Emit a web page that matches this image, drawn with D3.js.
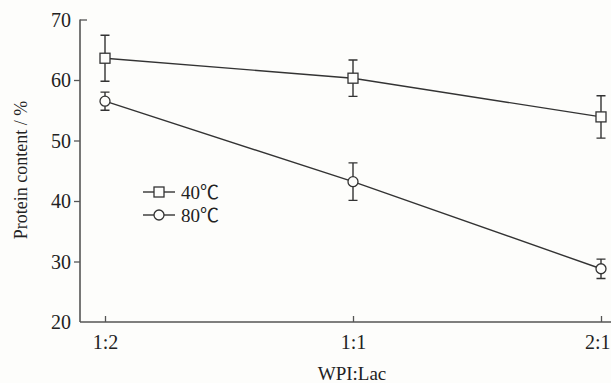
<!DOCTYPE html>
<html>
<head>
<meta charset="utf-8">
<script src="https://cdn.jsdelivr.net/npm/d3@7"></script>
<style>
  body { margin: 0; background: #fdfdfb; }
  text { font-family: "Liberation Serif", "Times New Roman", "Noto Sans CJK SC", serif; fill: #222; }
</style>
</head>
<body>
<svg id="chart"></svg>
<script>
let width = 611;
let height = 383;

// data
let ratios = ["1:2", "1:1", "2:1"];
let yTicks = [20, 30, 40, 50, 60, 70];
let protein40 = [63.6, 60.3, 53.9];
let err40 = [3.8, 3.0, 3.5];
let protein80 = [56.5, 43.2, 28.8];
let err80 = [1.5, 3.1, 1.6];
let seriesNames = ["40\u2103", "80\u2103"];

let svg = d3.select("#chart")
    .attr("width", width)
    .attr("height", height);

let axisLeft = 80, axisBottom = 322;
let x = d3.scalePoint().domain(ratios).range([105, 601]);
let y = d3.scaleLinear().domain([20, 70]).range([axisBottom, 19.5]);

let ink = "#333";

// y axis
let yAxis = svg.append("g").attr("transform", `translate(${axisLeft},0)`)
    .call(d3.axisLeft(y).tickValues(yTicks).tickSize(6).tickPadding(3).tickFormat(d3.format("d")));
yAxis.select(".domain").attr("stroke", "#555").attr("stroke-width", 1.6).attr("d", `M0,${y(70)}V${axisBottom}`);
yAxis.selectAll(".tick line").attr("stroke", "#555").attr("stroke-width", 1.3);
yAxis.selectAll(".tick").filter(d => d === 70).select("line").attr("x2", 7);
yAxis.selectAll(".tick").filter(d => d === 20).select("line").remove();
yAxis.selectAll(".tick text").style("font-size", "20px").attr("dy", "0.34em");

// x axis
let xAxis = svg.append("g").attr("transform", `translate(0,${axisBottom})`)
    .call(d3.axisBottom(x).tickSize(-6).tickPadding(13));
xAxis.select(".domain").attr("stroke", "#555").attr("stroke-width", 1.6).attr("d", `M${axisLeft},0H${width}`);
xAxis.selectAll(".tick line").attr("stroke", "#555").attr("stroke-width", 1.3);
xAxis.selectAll(".tick text").style("font-size", "20px");
xAxis.selectAll(".tick").filter(d => d === "2:1").select("text").attr("text-anchor", "end").attr("x", 9);

// axis titles
svg.append("text")
    .attr("x", 352).attr("y", 380)
    .attr("text-anchor", "middle")
    .style("font-size", "19px")
    .text("WPI:Lac");
svg.append("text")
    .attr("transform", `translate(27,170) rotate(-90)`)
    .attr("text-anchor", "middle")
    .style("font-size", "18px")
    .text("Protein content / %");

let line = d3.line().x((d, i) => x(ratios[i])).y(d => y(d));

function drawSeries(vals, errs, shape) {
    let g = svg.append("g");
    g.append("path")
        .attr("d", line(vals))
        .attr("fill", "none")
        .attr("stroke", ink)
        .attr("stroke-width", 1.4);
    vals.forEach((v, i) => {
        let cx = x(ratios[i]);
        let top = y(v + errs[i]), bot = y(v - errs[i]);
        g.append("path")
            .attr("d", `M${cx},${top}V${bot}M${cx - 4.5},${top}H${cx + 4.5}M${cx - 4.5},${bot}H${cx + 4.5}`)
            .attr("stroke", ink).attr("stroke-width", 1.4).attr("fill", "none");
        drawSymbol(g, shape, cx, y(v));
    });
}

function drawSymbol(g, shape, cx, cy) {
    if (shape === "square") {
        g.append("rect")
            .attr("x", cx - 5).attr("y", cy - 5)
            .attr("width", 10).attr("height", 10)
            .attr("fill", "#fdfdfb").attr("stroke", ink).attr("stroke-width", 1.3);
    } else {
        g.append("circle")
            .attr("cx", cx).attr("cy", cy).attr("r", 5)
            .attr("fill", "#fdfdfb").attr("stroke", ink).attr("stroke-width", 1.3);
    }
}

drawSeries(protein40, err40, "square");
drawSeries(protein80, err80, "circle");

// legend
let legend = svg.append("g");
[["square", 192], ["circle", 215]].forEach((s, i) => {
    legend.append("line")
        .attr("x1", 143).attr("x2", 175).attr("y1", s[1]).attr("y2", s[1])
        .attr("stroke", ink).attr("stroke-width", 1.4);
    drawSymbol(legend, s[0], 159, s[1]);
    legend.append("text")
        .attr("x", 181).attr("y", s[1]).attr("dy", "0.35em")
        .style("font-size", "19px")
        .text(seriesNames[i]);
});
</script>
</body>
</html>
